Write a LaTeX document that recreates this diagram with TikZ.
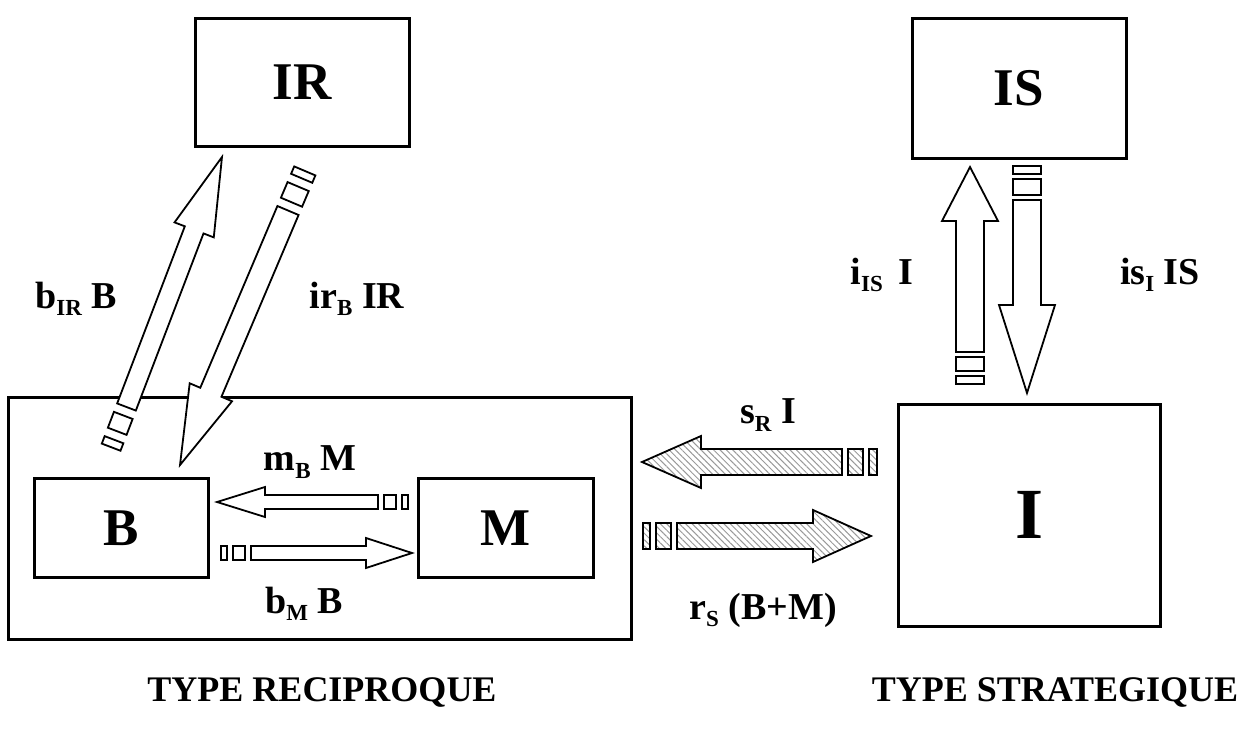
\documentclass[tikz,border=0pt]{standalone}
\usepackage{fontspec}
\setmainfont{Liberation Serif}
\usetikzlibrary{calc,patterns.meta}

% small lowered index used in the rate labels
\newcommand\lowidx[1]{\raisebox{-0.2em}{\fontsize{23pt}{23pt}\selectfont #1}}

% block arrow from #2 (start of shaft) to #3 (tip)
% #4 shaft half width, #5 head half width, #6 head length,
% #7 gap, #8 first tail block, #9 second tail block
\newcommand\blockarrow[9]{%
  \pgfpointdiff{\pgfpointanchor{#2}{center}}{\pgfpointanchor{#3}{center}}%
  \pgfgetlastxy\arrdx\arrdy
  \pgfmathsetmacro\arrang{atan2(\arrdy,\arrdx)}%
  \pgfmathsetmacro\arrlen{veclen(\arrdx,\arrdy)}%
  \pgfmathsetmacro\arrneck{\arrlen-#6}%
  \begin{scope}[shift={(#2)}, rotate=\arrang, x=1pt, y=1pt]
    \path[#1] (0,-#4) -- (\arrneck,-#4) -- (\arrneck,-#5) -- (\arrlen,0)
      -- (\arrneck,#5) -- (\arrneck,#4) -- (0,#4) -- cycle;
    \path[#1] (-#7,-#4) rectangle ({-#7-#8},#4);
    \path[#1] ({-2*#7-#8},-#4) rectangle ({-2*#7-#8-#9},#4);
  \end{scope}}

\tikzset{
  boxframe/.style={draw, line width=3pt, inner sep=0pt, fill=white},
  bigletter/.style={font=\fontsize{53pt}{55pt}\selectfont\bfseries},
  hugeletter/.style={font=\fontsize{72pt}{74pt}\selectfont\bfseries},
  lbl/.style={font=\fontsize{38pt}{40pt}\selectfont\bfseries, inner sep=0pt},
  titletext/.style={font=\fontsize{36pt}{38pt}\selectfont\bfseries, inner sep=0pt},
  flowarrow/.style={draw, line width=1.8pt, fill=white},
  hatcharrow/.style={draw, line width=1.8pt,
    pattern={Lines[angle=-45,distance=4.5pt,line width=1pt]}, pattern color=black!40},
}

\begin{document}
\begin{tikzpicture}[x=1pt, y=-1pt]
\useasboundingbox (0,0) rectangle (1251,729);

% compartments
\node[boxframe, minimum width=623pt, minimum height=242pt] (R) at (319.5,518) {};
\node[boxframe, bigletter, minimum width=174pt, minimum height=99pt] (B) at (121.5,528) {B};
\node[boxframe, bigletter, minimum width=175pt, minimum height=99pt] (M) at (505.5,528) {M};
\node[boxframe, bigletter, minimum width=214pt, minimum height=128pt] (IR) at (302,82) {IR};
\node[boxframe, bigletter, minimum width=214pt, minimum height=140pt] (IS) at (1019,88) {IS};
\node[boxframe, hugeletter, minimum width=262pt, minimum height=222pt] (I) at (1029,515) {I};

% arrow end points
\coordinate (mbS) at (378,502);  \coordinate (mbE) at (217,502);
\coordinate (bmS) at (251,553);  \coordinate (bmE) at (412,553);
\coordinate (srS) at (842,462);  \coordinate (srE) at (642,462);
\coordinate (rsS) at (677,536);  \coordinate (rsE) at (871,536);
\coordinate (iisS) at (970,352); \coordinate (iisE) at (970,167);
\coordinate (isiS) at (1027,200); \coordinate (isiE) at (1027,393);
\coordinate (birS) at (126.5,407); \coordinate (birE) at (222,157);
\coordinate (irbS) at (288,210.5); \coordinate (irbE) at (180,465);

% flows
\blockarrow{flowarrow}{birS}{birE}{10}{21}{78}{9}{17}{8}
\blockarrow{flowarrow}{irbS}{irbE}{11.5}{23}{79}{9}{17}{8}
\blockarrow{flowarrow}{mbS}{mbE}{7}{15}{48}{6}{12}{6}
\blockarrow{flowarrow}{bmS}{bmE}{7}{15}{46}{6}{12}{6}
\blockarrow{hatcharrow}{srS}{srE}{13}{26}{59}{6}{15}{8}
\blockarrow{hatcharrow}{rsS}{rsE}{13}{26}{58}{6}{15}{7}
\blockarrow{flowarrow}{iisS}{iisE}{14}{28}{54}{5}{14}{8}
\blockarrow{flowarrow}{isiS}{isiE}{14}{28}{88}{5}{16}{8}

% rate labels
\node[lbl] (lbir) at (76,299) {b\lowidx{IR} B};
\node[lbl] (lirb) at (357,299) {ir\lowidx{B} IR};
\node[lbl] (lmb) at (310,462) {m\lowidx{B} M};
\node[lbl] (lbm) at (304,604) {b\lowidx{M} B};
\node[lbl] (lsr) at (768,415) {s\lowidx{R} I};
\node[lbl] (lrs) at (763,610) {r\lowidx{S} (B+M)};
\node[lbl] (liis) at (882,275) {i\lowidx{IS}\, I};
\node[lbl] (lisi) at (1160,275) {is\lowidx{I} IS};

% type captions
\node[titletext] (trec) at (322,692) {TYPE RECIPROQUE};
\node[titletext] (tstr) at (1055,692) {TYPE STRATEGIQUE};
\end{tikzpicture}
\end{document}
